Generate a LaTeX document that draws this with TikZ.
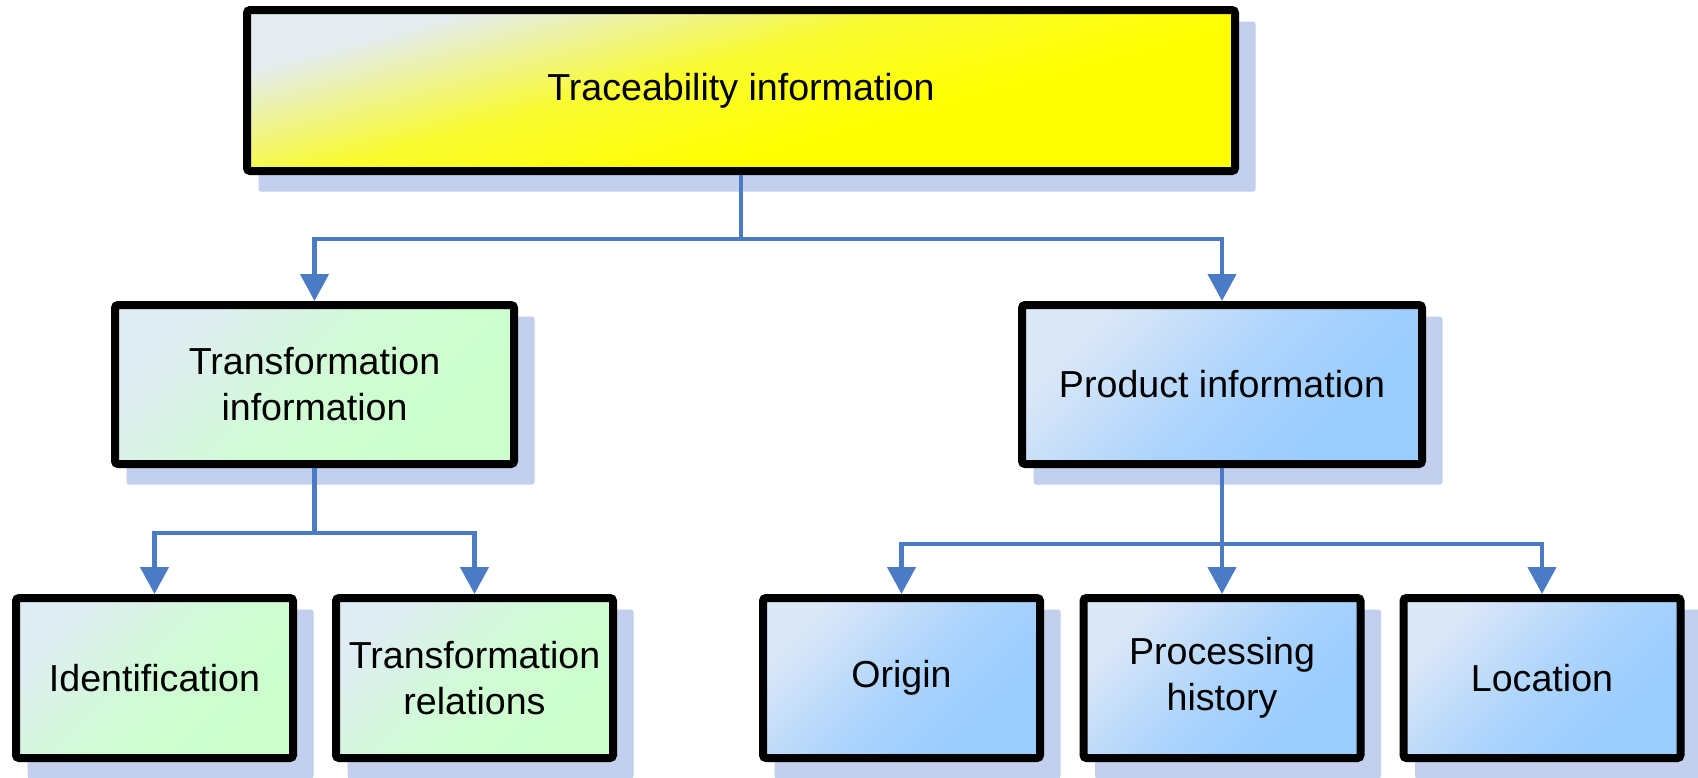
\documentclass[tikz,border=0pt]{standalone}
\usepackage{fontspec}
\setmainfont{Liberation Sans}
\usetikzlibrary{arrows.meta}
\pgfdeclarelayer{background}
\pgfsetlayers{background,main}

\definecolor{linkblue}{RGB}{74,123,196}
\definecolor{shadowblue}{RGB}{194,207,237}
\definecolor{paleyellow}{RGB}{228,236,240}
\definecolor{brightyellow}{RGB}{255,255,0}
\definecolor{palegreen}{RGB}{224,236,244}
\definecolor{mintgreen}{RGB}{204,255,204}
\definecolor{paleblue}{RGB}{221,232,247}
\definecolor{skyblue}{RGB}{153,204,255}

% diagonal fades: light in the upper left corner, full colour towards the lower right
\pgfdeclareverticalshading{yellowfade}{100bp}{%
  color(0bp)=(brightyellow); color(40bp)=(brightyellow);
  color(55bp)=(brightyellow!80!paleyellow); color(72bp)=(paleyellow); color(100bp)=(paleyellow)}
\pgfdeclareverticalshading{greenfade}{100bp}{%
  color(0bp)=(mintgreen); color(30bp)=(mintgreen);
  color(50bp)=(mintgreen!78!palegreen); color(75bp)=(palegreen); color(100bp)=(palegreen)}
\pgfdeclareverticalshading{bluefade}{100bp}{%
  color(0bp)=(skyblue); color(30bp)=(skyblue);
  color(50bp)=(skyblue!70!paleblue); color(75bp)=(paleblue); color(100bp)=(paleblue)}

\tikzset{
  box/.style={draw=black, line width=4pt, rounded corners=1.5pt,
    align=center, font=\fontsize{18.8pt}{23pt}\selectfont, text=black,
    minimum height=80pt, inner sep=0pt},
  rootbox/.style={box, shading=yellowfade, shading angle=15},
  greenbox/.style={box, shading=greenfade, shading angle=45},
  bluebox/.style={box, shading=bluefade, shading angle=45},
  leafbox/.style={minimum width=138.5pt},
  link/.style={draw=linkblue, line width=2.2pt},
  tip/.style={-{Triangle[width=14pt,length=13.5pt]}},
  twotips/.style={{Triangle[width=14pt,length=13.5pt]}-{Triangle[width=14pt,length=13.5pt]}},
  shadowfill/.style={fill=shadowblue, draw=shadowblue, line width=0.5pt, rounded corners=1pt}
}

\begin{document}
\begin{tikzpicture}[x=0.5pt, y=-0.5pt]
  \useasboundingbox (0,0) rectangle (1698,777);

  % boxes
  \node[rootbox, minimum width=494pt, minimum height=80.5pt] (root) at (741,90.5) {Traceability information};
  \node[greenbox, minimum width=199.5pt, minimum height=79.5pt] (trans) at (314.5,384.5) {Transformation\\information};
  \node[bluebox, minimum width=200pt, minimum height=79.5pt] (prod) at (1222,384.5) {Product information};

  \node[greenbox, leafbox] (ident) at (154.5,678) {Identification};
  \node[greenbox, leafbox] (trel) at (474.5,678) {Transformation\\relations};
  \node[bluebox, leafbox] (orig) at (901.5,678) {Origin};
  \node[bluebox, leafbox] (proc) at (1222,678) {Processing\\history};
  \node[bluebox, leafbox] (loc) at (1542,678) {Location};

  % offset shadows behind every box
  \begin{pgfonlayer}{background}
    \foreach \n in {root,trans,prod,ident,trel,orig,proc,loc}
      \path[shadowfill] ([shift={(16,16)}]\n.north west) rectangle ([shift={(16,16)}]\n.south east);
  \end{pgfonlayer}

  % branch points
  \coordinate (j1) at (741,239);
  \coordinate (j2) at (314.5,533);
  \coordinate (j3) at (1222,544);

  % connectors
  \draw[link] (root.south) -- (j1);
  \draw[link, twotips] (trans.north) |- (j1) -| (prod.north);

  \draw[link] (trans.south) -- (j2);
  \draw[link, twotips] (ident.north) |- (j2) -| (trel.north);

  \draw[link, tip] (prod.south) -- (proc.north);
  \draw[link, twotips] (orig.north) |- (j3) -| (loc.north);
\end{tikzpicture}
\end{document}
